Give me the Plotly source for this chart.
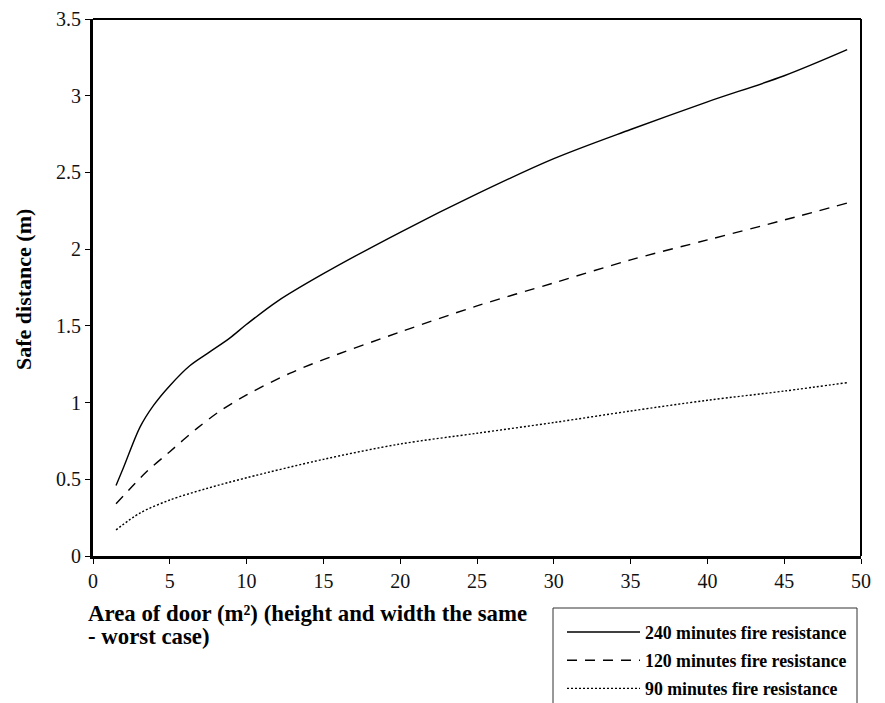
import plotly.graph_objects as go

# Data
x_240 = [1.5, 2.0, 3.06, 3.93, 5.0, 6.3, 7.6, 8.9, 10.0, 12.0, 15.0, 20.0, 25.0, 30.0, 35.0, 40.0, 45.0, 49.1]
y_240 = [0.46, 0.58, 0.84, 0.98, 1.11, 1.24, 1.33, 1.42, 1.51, 1.66, 1.84, 2.11, 2.36, 2.59, 2.78, 2.96, 3.13, 3.30]

x_120 = [1.5, 3.5, 5.0, 6.75, 8.2, 10.0, 12.8, 15.0, 20.0, 25.0, 30.0, 35.0, 40.0, 45.0, 49.1]
y_120 = [0.34, 0.55, 0.68, 0.83, 0.94, 1.05, 1.19, 1.28, 1.46, 1.63, 1.78, 1.93, 2.06, 2.19, 2.30]

x_90 = [1.5, 3.06, 5.0, 7.4, 10.0, 15.0, 20.0, 25.0, 30.0, 35.0, 40.0, 45.0, 49.1]
y_90 = [0.17, 0.28, 0.365, 0.44, 0.51, 0.63, 0.73, 0.80, 0.87, 0.945, 1.015, 1.075, 1.13]

series_names = ["240 minutes fire resistance", "120 minutes fire resistance", "90 minutes fire resistance"]
x_ticks = [0, 5, 10, 15, 20, 25, 30, 35, 40, 45, 50]
y_ticks = [0, 0.5, 1, 1.5, 2, 2.5, 3, 3.5]
y_tick_labels = ["0", "0.5", "1", "1.5", "2", "2.5", "3", "3.5"]

SERIF = "Liberation Serif"

fig = go.Figure()
fig.add_trace(go.Scatter(x=x_240, y=y_240, mode="lines", name=series_names[0], legendgroup="a",
                         line=dict(color="black", width=1.4, shape="spline", smoothing=0.9)))
fig.add_trace(go.Scatter(x=x_120, y=y_120, mode="lines", name=series_names[1], legendgroup="b",
                         line=dict(color="black", width=1.4, dash="10px,8px", shape="spline", smoothing=0.9)))
fig.add_trace(go.Scatter(x=x_90, y=y_90, mode="lines", name=series_names[2], legendgroup="c",
                         line=dict(color="black", width=1.4, dash="2px,2px", shape="spline", smoothing=0.9)))

W, H = 885, 703
L, R, T, B = 93, 24, 19, 147
pw, ph = W - L - R, H - T - B


def px_x(p):
    return (p - L) / pw


def px_y(p):
    return (H - B - p) / ph


fig.update_layout(
    width=W, height=H,
    margin=dict(l=L, r=R, t=T, b=B, pad=0, autoexpand=False),
    paper_bgcolor="white", plot_bgcolor="white",
    font=dict(family=SERIF, size=20, color="#111111"),
    showlegend=True,
    legend=dict(
        x=px_x(562), y=px_y(614), xanchor="left", yanchor="top",
        bgcolor="rgba(0,0,0,0)", borderwidth=0,
        font=dict(family=SERIF, size=17.8, color="black", weight="bold"),
        itemwidth=73, tracegroupgap=2,
    ),
    xaxis=dict(
        range=[0, 50], tickvals=x_ticks, ticks="outside", ticklen=5, tickwidth=1,
        tickcolor="black", showline=True, linecolor="black", linewidth=3,
        showgrid=False, zeroline=False, mirror=False, automargin=False,
        tickfont=dict(family=SERIF, size=20, color="#111111"),
    ),
    yaxis=dict(
        range=[0, 3.5], tickvals=y_ticks, ticktext=y_tick_labels, ticks="outside",
        ticklen=5, tickwidth=1, tickcolor="black", showline=True, linecolor="black",
        linewidth=3, showgrid=False, zeroline=False, mirror=False, automargin=False,
        tickfont=dict(family=SERIF, size=20, color="#111111"),
    ),
    shapes=[
        dict(type="line", xref="paper", yref="paper", x0=0, x1=1, y0=1, y1=1,
             line=dict(color="black", width=2)),
        dict(type="line", xref="paper", yref="paper", x0=1, x1=1, y0=0, y1=1,
             line=dict(color="black", width=2)),
        dict(type="rect", xref="paper", yref="paper", x0=px_x(553), x1=px_x(857),
             y0=px_y(608), y1=px_y(730), line=dict(color="#333333", width=1)),
    ],
    annotations=[
        dict(text="<b>Safe distance (m)</b>", textangle=-90,
             xref="paper", yref="paper", x=px_x(23), y=px_y(290), xanchor="center",
             yanchor="middle", showarrow=False,
             font=dict(family=SERIF, size=22, color="black")),
        dict(text="<b>Area of door (m²) (height and width the same</b>",
             xref="paper", yref="paper", x=px_x(87), y=px_y(627), xanchor="left",
             yanchor="bottom", align="left", showarrow=False, borderpad=0,
             font=dict(family=SERIF, size=22.8, color="black")),
        dict(text="<b>- worst case)</b>",
             xref="paper", yref="paper", x=px_x(87), y=px_y(650), xanchor="left",
             yanchor="bottom", align="left", showarrow=False, borderpad=0,
             font=dict(family=SERIF, size=22.8, color="black")),
    ],
)

fig.write_html("out.html", config={"displayModeBar": False},
               post_script="document.body.style.margin='0px';document.body.style.overflow='hidden';")
